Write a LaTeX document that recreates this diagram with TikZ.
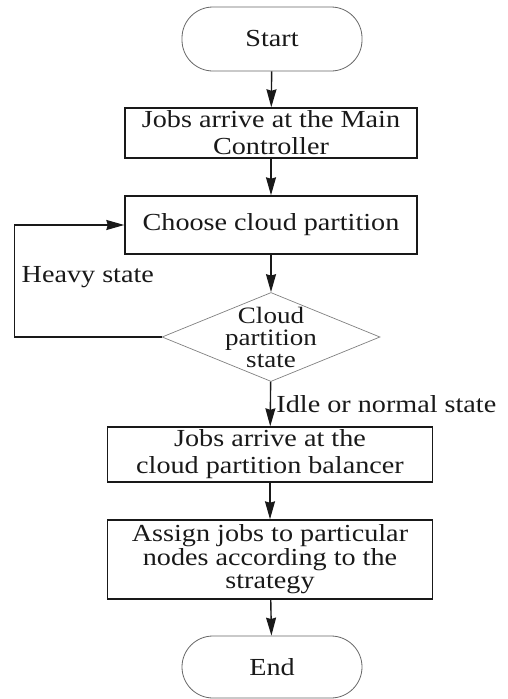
\documentclass[tikz,border=0pt]{standalone}
\usepackage{fontspec}
\setmainfont{Liberation Serif}[FakeStretch=1.15]
\usetikzlibrary{shapes.geometric,arrows.meta}
\begin{document}
\begin{tikzpicture}[
    x=1pt, y=-1pt,
    every node/.style={text=black!90, font=\fontsize{24.5pt}{27pt}\selectfont},
    terminal/.style={draw=black!60, line width=0.8pt, rectangle, rounded corners=31pt, minimum width=180pt, minimum height=64pt},
    process/.style={draw=black!90, line width=1.4pt, rectangle, align=center, minimum width=292pt, inner sep=0pt},
    decision/.style={draw=black!50, line width=0.7pt, diamond, align=center, minimum width=218pt, minimum height=89pt, inner sep=-20pt, font=\fontsize{23.5pt}{22pt}\selectfont},
    arrow/.style={-{Stealth[length=18pt, width=10pt, inset=1.5pt]}, line width=1.4pt, black!90}
]
    \useasboundingbox (0,0) rectangle (508,699);

    % Start and first steps
    \node[terminal] (start) at (272,39) {Start};
    \node[process, minimum height=50pt] (arrive) at (271,133) {Jobs arrive at the Main\\Controller};
    \node[process, minimum height=58pt] (choose) at (271,225) {Choose cloud partition};

    % Decision on the partition state
    \node[decision] (state) at (271,337) {Cloud\\partition\\state};

    % Balancer steps
    \node[process, minimum width=325pt, minimum height=55pt] (balancer) at (270,454.5) {Jobs arrive at the\\cloud partition balancer};
    \node[process, minimum width=325pt, minimum height=79pt, font=\fontsize{24.5pt}{23.5pt}\selectfont] (assign) at (270,559.5) {Assign jobs to particular\\nodes according to the\\strategy};
    \node[terminal, minimum height=62pt] (finish) at (272,667) {End};

    % Flow
    \draw[arrow] (start) -- (arrive);
    \draw[arrow] (arrive) -- (choose);
    \draw[arrow] (choose) -- (state);
    \draw[arrow] (state) -- node[right, xshift=2pt] {Idle or normal state} (balancer);
    \draw[arrow] (balancer) -- (assign);
    \draw[arrow] (assign) -- (finish);
    \draw[arrow] (state.west) -- ++(-147,0) |- node[pos=0.25, right, xshift=3pt, yshift=4pt] {Heavy state} (choose.west);
\end{tikzpicture}
\end{document}
